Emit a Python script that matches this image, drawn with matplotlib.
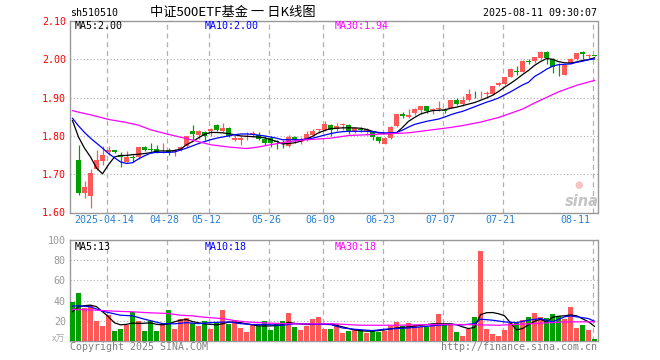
import numpy as np
import matplotlib.pyplot as plt
import matplotlib.transforms as mtransforms

W, H = 660, 360

# -------------------------
# Daily candles, index 0 = 2025-04-07 ... 86 = 2025-08-11
# -------------------------
opens = [1.738, 1.652, 1.642, 1.714, 1.735, 1.757, 1.763, 1.750, 1.733, 1.745,
         1.744, 1.770, 1.765, 1.767, 1.762, 1.764, 1.759, 1.762, 1.773, 1.814,
         1.803, 1.809, 1.812, 1.828, 1.812, 1.821, 1.788, 1.790, 1.798, 1.806,
         1.803, 1.792, 1.795, 1.787, 1.782, 1.773, 1.797, 1.783, 1.790, 1.803,
         1.815, 1.816, 1.829, 1.818, 1.829, 1.829, 1.813, 1.817, 1.812, 1.809,
         1.796, 1.780, 1.795, 1.825, 1.857, 1.850, 1.860, 1.868, 1.877, 1.867,
         1.870, 1.867, 1.873, 1.895, 1.884, 1.895, 1.908, 1.906, 1.909, 1.909,
         1.932, 1.935, 1.955, 1.969, 1.968, 1.995, 1.996, 2.003, 2.018, 2.001,
         1.978, 1.960, 1.990, 2.001, 2.020, 2.008, 2.010]
highs = [1.777, 1.681, 1.714, 1.764, 1.774, 1.773, 1.764, 1.757, 1.760, 1.749,
         1.772, 1.774, 1.781, 1.777, 1.781, 1.768, 1.767, 1.774, 1.800, 1.829,
         1.816, 1.814, 1.820, 1.831, 1.833, 1.823, 1.803, 1.799, 1.809, 1.812,
         1.809, 1.800, 1.799, 1.790, 1.790, 1.803, 1.799, 1.797, 1.812, 1.818,
         1.818, 1.838, 1.830, 1.834, 1.834, 1.830, 1.823, 1.823, 1.821, 1.814,
         1.796, 1.797, 1.827, 1.858, 1.862, 1.871, 1.873, 1.877, 1.877, 1.874,
         1.890, 1.873, 1.894, 1.899, 1.903, 1.923, 1.916, 1.916, 1.916, 1.931,
         1.942, 1.955, 1.977, 1.983, 1.999, 2.001, 2.007, 2.021, 2.021, 2.003,
         1.991, 1.989, 2.003, 2.017, 2.022, 2.015, 2.011]
lows = [1.646, 1.639, 1.613, 1.712, 1.724, 1.751, 1.756, 1.720, 1.731, 1.731,
        1.740, 1.760, 1.755, 1.755, 1.755, 1.751, 1.748, 1.760, 1.771, 1.790,
        1.792, 1.790, 1.801, 1.812, 1.809, 1.797, 1.786, 1.777, 1.788, 1.797,
        1.789, 1.777, 1.771, 1.766, 1.768, 1.771, 1.781, 1.779, 1.786, 1.799,
        1.808, 1.812, 1.800, 1.814, 1.816, 1.805, 1.808, 1.811, 1.803, 1.788,
        1.781, 1.779, 1.792, 1.823, 1.847, 1.847, 1.855, 1.857, 1.859, 1.858,
        1.864, 1.860, 1.872, 1.881, 1.877, 1.890, 1.898, 1.898, 1.898, 1.906,
        1.929, 1.933, 1.955, 1.960, 1.966, 1.988, 1.990, 2.000, 1.989, 1.964,
        1.957, 1.958, 1.989, 1.999, 2.001, 2.002, 2.008]
closes = [1.652, 1.667, 1.703, 1.738, 1.751, 1.762, 1.757, 1.744, 1.744, 1.743,
          1.770, 1.764, 1.763, 1.759, 1.764, 1.759, 1.764, 1.770, 1.799, 1.805,
          1.812, 1.799, 1.818, 1.816, 1.820, 1.800, 1.795, 1.795, 1.800, 1.808,
          1.793, 1.781, 1.781, 1.785, 1.780, 1.797, 1.790, 1.790, 1.806, 1.813,
          1.817, 1.830, 1.816, 1.827, 1.831, 1.814, 1.821, 1.815, 1.818, 1.796,
          1.786, 1.795, 1.823, 1.858, 1.851, 1.855, 1.871, 1.877, 1.866, 1.869,
          1.872, 1.865, 1.893, 1.884, 1.895, 1.910, 1.906, 1.908, 1.911, 1.931,
          1.938, 1.955, 1.975, 1.967, 1.996, 1.993, 2.005, 2.018, 2.003, 1.980,
          1.976, 1.986, 2.001, 2.016, 2.014, 2.010, 2.009]

# volume (x万), one extra bar (2025-04-03) before the first candle
volumes = [38.5, 47.4, 33, 36, 19.6, 14.6, 25.5, 9.6, 12.3, 15.9,
           28.9, 19.9, 9.6, 19.6, 9.6, 16.6, 30.5, 11.6, 21.6, 22.6,
           17.6, 14.6, 19.6, 11.6, 17.6, 30.5, 16.6, 20.6, 12.6, 8.6,
           17, 14.6, 19.6, 10.6, 17, 19.6, 28.2, 13.6, 10.6, 14.6,
           21.6, 23.5, 11.6, 11.6, 17, 7.6, 9.6, 11, 11, 8.3,
           10.6, 8.6, 9.6, 15, 18.6, 15, 17.6, 16, 13.6, 13.6,
           15.6, 26.5, 16.6, 16.3, 8.6, 4.6, 11.6, 23.5, 89.2, 11.6,
           6.6, 4.6, 10.6, 17.6, 17.6, 20.6, 23.5, 27.5, 23.5, 22.6,
           26.5, 24.5, 21.6, 33.5, 12.6, 15.6, 10.6, 1.7]

# price moving averages, index -1 .. 86
ma5 = [1.840, 1.797, 1.768, 1.745, 1.716, 1.701, 1.725, 1.745, 1.749, 1.749,
       1.751, 1.752, 1.754, 1.756, 1.760, 1.761, 1.760, 1.762, 1.765, 1.777,
       1.785, 1.795, 1.804, 1.809, 1.809, 1.808, 1.806, 1.803, 1.800, 1.799,
       1.798, 1.797, 1.795, 1.790, 1.786, 1.779, 1.780, 1.782, 1.786, 1.792,
       1.799, 1.808, 1.814, 1.819, 1.820, 1.821, 1.821, 1.821, 1.820, 1.817,
       1.812, 1.808, 1.806, 1.806, 1.808, 1.822, 1.838, 1.848, 1.857, 1.862,
       1.866, 1.867, 1.868, 1.872, 1.875, 1.879, 1.883, 1.887, 1.893, 1.899,
       1.906, 1.916, 1.927, 1.937, 1.948, 1.960, 1.971, 1.984, 1.994, 2.002,
       2.000, 1.994, 1.991, 1.990, 1.993, 1.997, 1.999, 2.004]
ma10 = [1.846, 1.826, 1.809, 1.794, 1.781, 1.768, 1.754, 1.743, 1.732, 1.728,
        1.730, 1.740, 1.748, 1.755, 1.757, 1.757, 1.757, 1.758, 1.763, 1.768,
        1.774, 1.780, 1.785, 1.790, 1.794, 1.797, 1.800, 1.803, 1.805, 1.805,
        1.804, 1.802, 1.800, 1.797, 1.794, 1.790, 1.790, 1.790, 1.790, 1.792,
        1.794, 1.798, 1.802, 1.806, 1.809, 1.811, 1.812, 1.812, 1.812, 1.812,
        1.811, 1.809, 1.808, 1.808, 1.809, 1.815, 1.823, 1.830, 1.834, 1.838,
        1.841, 1.844, 1.849, 1.855, 1.860, 1.864, 1.870, 1.876, 1.882, 1.888,
        1.893, 1.899, 1.907, 1.915, 1.924, 1.933, 1.940, 1.955, 1.964, 1.974,
        1.982, 1.986, 1.987, 1.988, 1.992, 1.995, 1.999, 2.001]
ma30_idx = [-1, 0, 2, 5, 8, 10, 12, 15, 18, 19, 22, 25, 28, 30, 32, 35, 38, 42,
            45, 48, 52, 55, 58, 62, 64, 67, 70, 74, 76, 80, 83, 86]
ma30 = [1.866, 1.862, 1.855, 1.843, 1.835, 1.828, 1.816, 1.804, 1.793, 1.789,
        1.777, 1.771, 1.767, 1.771, 1.777, 1.785, 1.790, 1.794, 1.801, 1.803,
        1.806, 1.808, 1.814, 1.822, 1.827, 1.836, 1.848, 1.870, 1.886, 1.915,
        1.932, 1.945]

# volume moving averages
vol_ma5 = [29, 34, 35, 35.5, 34, 29, 24, 18, 16, 16.5,
           17.8, 17.5, 17.6, 18, 16.5, 16, 17, 19, 20.6, 21.2,
           19.2, 18, 17, 16.5, 16, 17, 18.7, 18.6, 18.2, 17,
           16, 15, 14.9, 14.9, 15.3, 16.2, 18.5, 17.5, 17, 16.3,
           16.5, 17, 17, 16.8, 15.5, 14, 12.5, 11, 10.2, 9.7,
           9.8, 10.3, 11, 12, 12.9, 13.5, 14, 14.8, 15.5, 16.2,
           17, 17, 17, 17, 16.2, 14, 12.3, 13.5, 26, 28,
           28.2, 27, 25, 18, 11, 12.3, 16, 19.5, 21.6, 18.5,
           23.5, 24.5, 25, 25.8, 25, 22, 19, 14.5]
vol_ma10_idx = [-1, 0, 2, 4, 5, 7, 9, 11, 14, 16, 18, 20, 22, 25, 27, 29, 31, 34,
                36, 38, 40, 42, 44, 46, 49, 51, 53, 55, 57, 60, 62, 64, 66, 67,
                69, 71, 73, 75, 77, 79, 81, 82, 85, 86]
vol_ma10 = [34.5, 34.8, 33.8, 29.5, 28.2, 25.5, 24.9, 21.6, 17.2, 17, 18.2, 17.2,
            18.2, 18.9, 17.2, 16.3, 16.3, 15.6, 17, 17, 16.6, 16.3, 12.9, 11.6,
            10.3, 11.6, 12.3, 12.9, 14, 15.6, 16.3, 16, 17.2, 21.6, 20.6, 18.9,
            18.2, 20.6, 22.2, 18.9, 23.9, 24.9, 22.2, 19.5]
vol_ma30_idx = [-1, 2, 3, 6, 9, 12, 15, 17, 19, 21, 24, 26, 28, 30, 32, 35, 37,
                40, 42, 47, 53, 59, 64, 70, 75, 81, 86]
vol_ma30 = [31.2, 30.8, 30.5, 29.5, 28.9, 27.9, 27.2, 25.5, 24.9, 23.5, 22.2,
            20.2, 18.9, 18.2, 17.6, 17.2, 16.9, 17, 17.2, 15.6, 15.6, 16.3,
            16.3, 15.6, 17, 18.9, 19.0]

tick_idx = [5, 15, 22, 32, 41, 51, 61, 71, 86]
tick_labels = ["2025-04-14", "04-28", "05-12", "05-26", "06-09",
               "06-23", "07-07", "07-21", "08-11"]
price_ticks = [1.60, 1.70, 1.80, 1.90, 2.00, 2.10]
vol_ticks = [20, 40, 60, 80, 100]

RED = "#ff5858"
GREEN = "#00a000"
MONO = "DejaVu Sans Mono"
CJK = ["Noto Sans CJK SC", "DejaVu Sans"]


def fx(px):
    return px / W


def fy(py):
    return 1 - py / H


fig = plt.figure(figsize=(6.6, 3.6), dpi=100)
ax = fig.add_axes([fx(70), fy(212.5), fx(527.5), (212.5 - 21) / H])
axv = fig.add_axes([fx(70), fy(341), fx(527.5), (341 - 240) / H])

xlim = (-1.42, 86.5)
grid_x = np.array(tick_idx) - 0.33

# -------------------------
# Price panel
# -------------------------
o = np.array(opens)
h = np.array(highs)
l = np.array(lows)
c = np.array(closes)
x = np.arange(len(o))
up = c >= o
cols = np.where(up, RED, GREEN)

ax.vlines(x, l, h, colors=cols, lw=0.9, zorder=3)
ax.bar(x, np.maximum(np.abs(c - o), 0.0018), bottom=np.minimum(o, c),
       width=0.78, color=cols, linewidth=0, zorder=3)

xm = np.arange(-1, len(o))
ax.plot(xm, ma5, color="black", lw=0.9, zorder=4)
ax.plot(xm, ma10, color="#0000ff", lw=0.9, zorder=4)
ax.plot(ma30_idx, ma30, color="#ff00ff", lw=0.9, zorder=4)

ax.set_xlim(*xlim)
ax.set_ylim(1.60, 2.10)
ax.set_yticks(price_ticks, ["%.2f" % v for v in price_ticks])
ax.set_xticks(grid_x, tick_labels)
ax.tick_params(length=0, pad=3, labelsize=7.2)
ax.tick_params(axis="x", pad=1.5)
for t in ax.get_yticklabels():
    t.set_color("#ff0000")
    t.set_family(MONO)
shift = mtransforms.ScaledTranslation(-2.5 / 100, 0, fig.dpi_scale_trans)
xlabels = ax.get_xticklabels()
for t in xlabels:
    t.set_color("#2a7fd4")
    t.set_family(MONO)
    t.set_transform(t.get_transform() + shift)
xlabels[-1].set_ha("right")

# -------------------------
# Volume panel
# -------------------------
vcols = [GREEN] + list(cols)
xv = np.arange(-1, len(o))
axv.bar(xv, volumes, width=0.78, color=vcols, linewidth=0, zorder=3)
axv.plot(xv, vol_ma5, color="black", lw=0.9, zorder=4)
axv.plot(vol_ma10_idx, vol_ma10, color="#0000ff", lw=0.9, zorder=4)
axv.plot(vol_ma30_idx, vol_ma30, color="#ff00ff", lw=0.9, zorder=4)
axv.set_xlim(*xlim)
axv.set_ylim(0, 100)
axv.set_yticks(vol_ticks, [str(v) for v in vol_ticks])
axv.set_xticks(grid_x, [""] * len(grid_x))
axv.tick_params(length=0, pad=3, labelsize=7.2)
for t in axv.get_yticklabels():
    t.set_color("#999999")
    t.set_family(MONO)

for a in (ax, axv):
    a.set_axisbelow(True)
    a.grid(axis="x", color="#b0b0b0", ls=(0, (4, 3)), lw=0.9)
    a.grid(axis="y", color="#b0b0b0", ls=(0, (1, 2)), lw=0.8)
    for s in a.spines.values():
        s.set_color("#999999")
        s.set_linewidth(1.0)

# -------------------------
# Texts
# -------------------------
fig.text(fx(70), fy(13), "sh510510", ha="left", va="center", family=MONO, size=7.2)
fig.text(fx(150), fy(12.5), "中证500ETF基金 一 日K线图", ha="left", va="center",
         family=CJK, size=9.5)
fig.text(fx(597), fy(13), "2025-08-11 09:30:07", ha="right", va="center",
         family=MONO, size=7.2)

for ypix, labels in ((26, ("MA5:2.00", "MA10:2.00", "MA30:1.94")),
                     (247, ("MA5:13", "MA10:18", "MA30:18"))):
    for xpix, txt, col in zip((75, 205, 335), labels, ("black", "#0000ff", "#ff00ff")):
        fig.text(fx(xpix), fy(ypix), txt, ha="left", va="center", family=MONO,
                 size=7.2, color=col)

fig.text(fx(65), fy(339), "x万", ha="right", va="center", family=CJK, size=6.5,
         color="#aaaaaa", style="italic")
fig.text(fx(70), fy(347), "Copyright 2025 SINA.COM", ha="left", va="center",
         family=MONO, size=7.2, color="#808080")
fig.text(fx(597), fy(347), "http://finance.sina.com.cn", ha="right", va="center",
         family=MONO, size=7.2, color="#808080")

# sina watermark
fig.text(fx(579), fy(185), "●", ha="center", va="center", size=7, color="#f6c4c4")
fig.text(fx(582), fy(201), "sina", ha="center", va="center", size=10.5,
         style="italic", weight="bold", color="#c4c4c4")

plt.savefig("out.png", dpi=100)
plt.close()
